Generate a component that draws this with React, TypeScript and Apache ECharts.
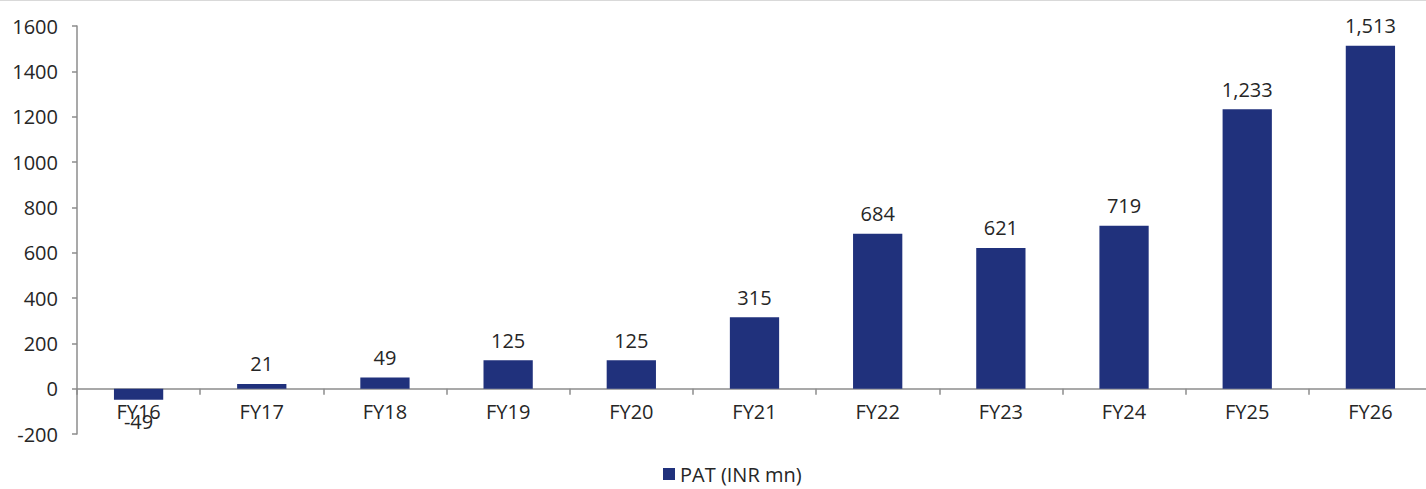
import React, { useEffect, useRef } from "react";
import * as echarts from "echarts";

const categories = ["FY16", "FY17", "FY18", "FY19", "FY20", "FY21", "FY22", "FY23", "FY24", "FY25", "FY26"];
const patValues = [-49, 21, 49, 125, 125, 315, 684, 621, 719, 1233, 1513];
const seriesName = "PAT (INR mn)";
const yMin = -200;
const yMax = 1600;
const yStep = 200;

const FONT = "'Open Sans', 'Noto Sans', sans-serif";
const TEXT = "#262626";
const CHART_W = 1432;
const CHART_H = 489;

export default function App() {
  const ref = useRef<HTMLDivElement>(null);
  useEffect(() => {
    document.body.style.margin = "0";
    const chart = echarts.init(ref.current!, undefined, { renderer: "svg" });
    const gridTop = 26;
    const gridBottom = 55;
    const plotH = CHART_H - gridTop - gridBottom;
    const zeroOffset = -((0 - yMin) / (yMax - yMin)) * plotH;
    chart.setOption({
      animation: false,
      backgroundColor: "#ffffff",
      textStyle: { fontFamily: FONT },
      grid: { left: 77, right: 0, top: gridTop, bottom: gridBottom, containLabel: false },
      legend: {
        bottom: 0,
        left: 658,
        itemWidth: 12,
        itemHeight: 12,
        icon: "rect",
        textStyle: { fontSize: 20, color: TEXT, fontFamily: FONT },
        data: [seriesName],
      },
      graphic: [
        {
          type: "line",
          shape: { x1: 0, y1: 0.5, x2: CHART_W, y2: 0.5 },
          style: { stroke: "#d9d9d9", lineWidth: 1 },
        },
      ],
      xAxis: {
        type: "category",
        data: categories,
        offset: zeroOffset,
        axisLine: { show: true, onZero: false, lineStyle: { color: "#8c8c8c", width: 1.5 } },
        axisTick: { show: true, alignWithLabel: false, length: 6, lineStyle: { color: "#8c8c8c", width: 1.5 } },
        axisLabel: {
          color: TEXT,
          fontSize: 20,
          fontFamily: FONT,
          margin: 13,
          interval: 0,
        },
      },
      yAxis: {
        type: "value",
        min: yMin,
        max: yMax,
        interval: yStep,
        splitLine: { show: false },
        axisLine: { show: true, lineStyle: { color: "#8c8c8c", width: 1.5 } },
        axisTick: { show: true, length: 5, lineStyle: { color: "#8c8c8c", width: 1.5 } },
        axisLabel: {
          color: TEXT,
          fontSize: 20,
          fontFamily: FONT,
          margin: 19,
          formatter: (v: number) => String(v),
        },
      },
      series: [
        {
          name: seriesName,
          type: "bar",
          data: patValues.map((v) =>
            v < 0 ? { value: v, label: { position: "bottom", distance: 12 } } : v
          ),
          barWidth: "40%",
          itemStyle: { color: "#20317c" },
          label: {
            show: true,
            position: "top",
            distance: 10,
            color: TEXT,
            fontSize: 20,
            fontFamily: FONT,
            formatter: (p: any) => Number(p.value).toLocaleString("en-US"),
          },
        },
      ],
    });
    return () => chart.dispose();
  }, []);
  return (
    <div style={{ position: "fixed", left: 0, top: 0, width: 1426, height: CHART_H, overflow: "hidden" }}>
      <div ref={ref} style={{ width: CHART_W, height: CHART_H }} />
    </div>
  );
}
